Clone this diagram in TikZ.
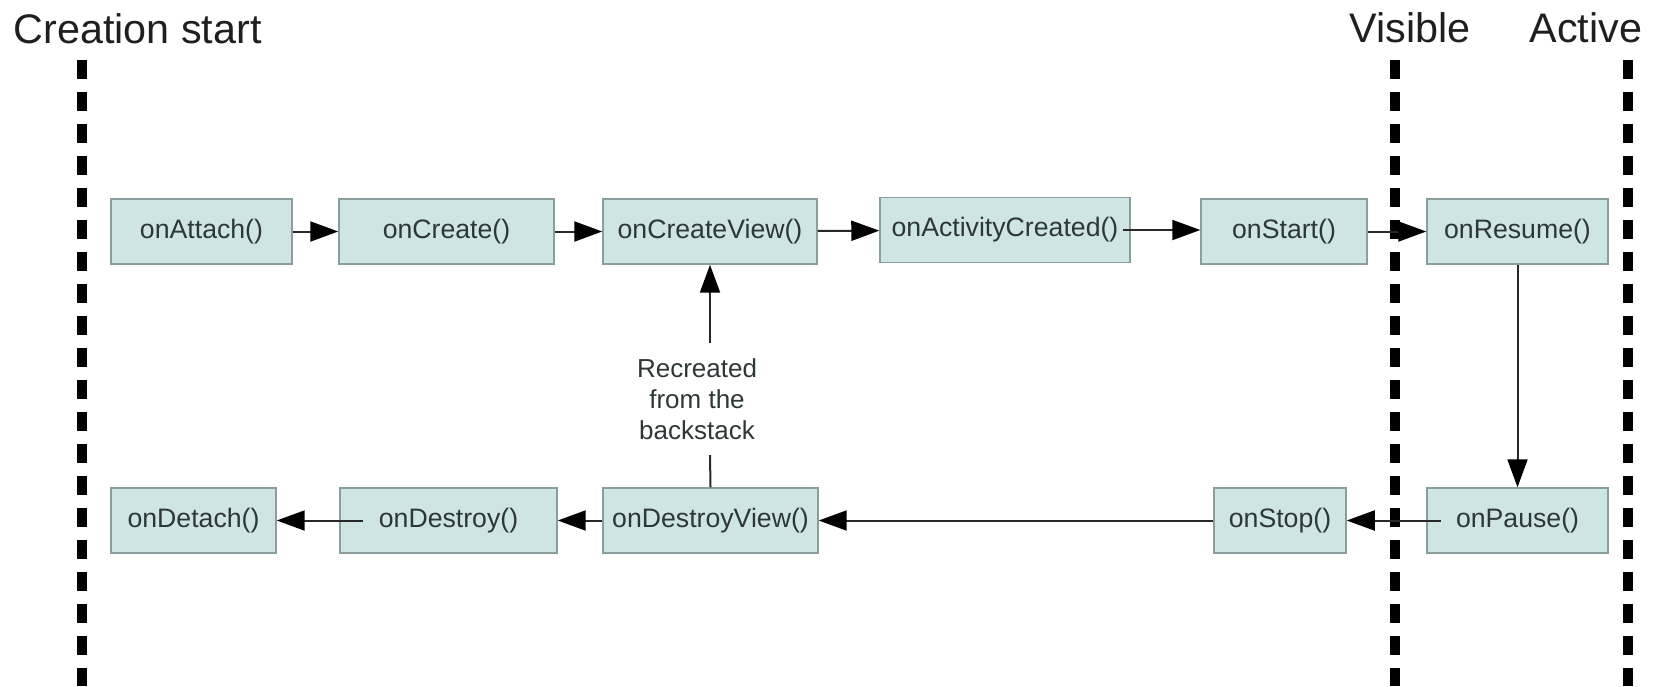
\documentclass[tikz,border=0pt]{standalone}
\usepackage{fontspec}
\setmainfont{Liberation Sans}
\usetikzlibrary{arrows.meta}

\definecolor{boxfill}{RGB}{207,229,228}
\definecolor{boxline}{RGB}{138,158,158}
\definecolor{boxtext}{RGB}{45,55,55}
\definecolor{flowline}{RGB}{40,40,40}

\tikzset{every picture/.style={line width=0.75pt}}

\begin{document}
\begin{tikzpicture}[x=0.75pt,y=0.75pt,yscale=-1,xscale=1,
  cb/.style={draw=boxline, line width=1.1pt, fill=boxfill, text=boxtext,
    font=\fontsize{20}{24}\selectfont, minimum height=48.75pt,
    minimum width=#1*0.75pt, inner sep=0pt},
  flow/.style={draw=flowline, line width=1.5pt,
    -{Triangle[length=21pt,width=15pt,fill=black,color=black]}},
  plain/.style={draw=flowline, line width=1.5pt},
  phase/.style={line width=7.5pt, dash pattern=on 14.25pt off 9.75pt},
  stagelbl/.style={anchor=base west, inner sep=0pt, text=black!88,
    font=\fontsize{31}{36}\selectfont}]
\useasboundingbox (0,0) rectangle (1656,686);

% Phase borders
\draw[phase] (82,60) -- (82,686);
\draw[phase] (1395,60) -- (1395,686);
\draw[phase] (1628,60) -- (1628,686);

% Phase titles
\node[stagelbl] (tcreation) at (13,43) {Creation start};
\node[stagelbl] (tvisible) at (1349,42) {Visible};
\node[stagelbl] (tactive) at (1529,42) {Active};

% Upper row
\node[cb=181] (attach) at (201.5,231.5) {onAttach()};
\node[cb=215] (create) at (446.5,231.5) {onCreate()};
\node[cb=214] (createview) at (710,231.5) {onCreateView()};
\node[cb=250] (actcreated) at (1005,230) {onActivityCreated()};
\node[cb=166] (start) at (1284,231.5) {onStart()};
\node[cb=181] (resume) at (1517.5,231.5) {onResume()};

% Lower row
\node[cb=165] (detach) at (193.5,520.5) {onDetach()};
\node[cb=217] (destroy) at (448.5,520.5) {onDestroy()};
\node[cb=215] (destroyview) at (710.5,520.5) {onDestroyView()};
\node[cb=132] (stop) at (1280,520.5) {onStop()};
\node[cb=181] (pause) at (1517.5,520.5) {onPause()};

% Back stack note
\node[text=boxtext, align=center, inner sep=0pt,
  font=\fontsize{19.5}{23.25}\selectfont] (recreated) at (697,399)
  {Recreated\\from the\\backstack};
\coordinate (gaplo) at (710,455);
\coordinate (gaphi) at (710,343);

% Connectors
\draw[flow] (attach) -- (create);
\draw[flow] (create) -- (createview);
\draw[flow] (createview) -- (actcreated);
\draw[flow] ([xshift=-6pt]actcreated.east) -- (start.west |- actcreated.east);
\draw[flow] (start) -- (resume);
\draw[flow] (resume) -- (pause);
\draw[flow] ([xshift=11pt]pause.west) -- (stop.east);
\draw[flow] (stop) -- (destroyview);
\draw[flow] (destroyview) -- (destroy);
\draw[flow] ([xshift=18pt]destroy.west) -- (detach.east);
\draw[plain] (destroyview.north) -- (gaplo);
\draw[flow] (gaphi) -- (createview.south);

\end{tikzpicture}
\end{document}
